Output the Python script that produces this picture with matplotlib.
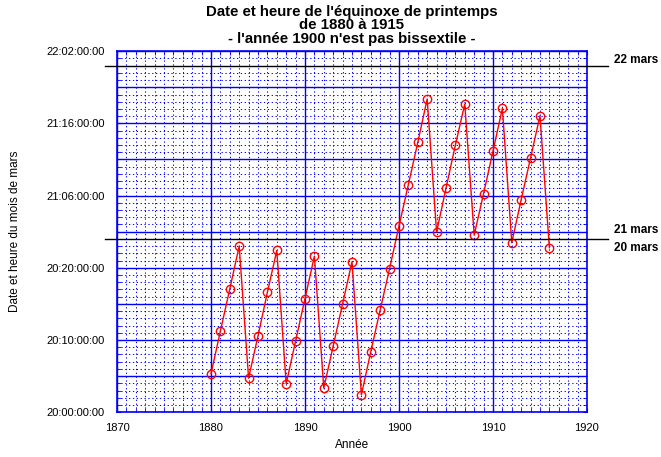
import matplotlib
matplotlib.use('Agg')
import matplotlib.pyplot as plt
from matplotlib.ticker import MultipleLocator

plt.rcParams['font.family'] = ['Liberation Sans', 'DejaVu Sans']

# données : heure de l'équinoxe, en heures depuis le 20 mars 0h
annees = list(range(1880, 1917))
heures = [5.32, 11.25, 17.08, 23.00, 4.72, 10.56, 16.61, 22.40,
          3.93, 9.86, 15.74, 21.61, 3.33, 9.17, 15.00, 20.83,
          2.40, 8.38, 14.17, 19.90, 25.78, 31.53, 37.36, 43.38,
          24.94, 31.01, 36.99, 42.68, 24.53, 30.28, 36.15, 42.08,
          23.47, 29.44, 35.22, 41.06, 22.78]

y_ticks = [0, 10, 20, 30, 40, 50]
y_labels = ['20:00:00:00', '20:10:00:00', '20:20:00:00',
            '21:06:00:00', '21:16:00:00', '22:02:00:00']
x_ticks = [1870, 1880, 1890, 1900, 1910, 1920]

# lignes de changement de jour
jours = [24, 48]

fig = plt.figure(figsize=(6.61, 4.57), dpi=100)
ax = fig.add_axes([0.177, 0.098, 0.711, 0.790])

ax.plot(annees, heures, color='red', lw=1, marker='o', markersize=6,
        markerfacecolor='none', markeredgecolor='red', markeredgewidth=1, zorder=5)

ax.set_xlim(1870, 1920)
ax.set_ylim(0, 50)
ax.set_xticks(x_ticks)
ax.set_yticks(y_ticks)
ax.set_yticklabels(y_labels)
ax.xaxis.set_minor_locator(MultipleLocator(1))
ax.yaxis.set_minor_locator(MultipleLocator(1))

# quadrillage bleu
ax.grid(which='minor', color='blue', linestyle=(0, (1.2, 2.5)), lw=0.75)
for v in range(1870, 1921, 10):
    ax.axvline(v, color='blue', lw=1)
for h in range(0, 51, 5):
    ax.axhline(h, color='blue', lw=1)

for s in ax.spines.values():
    s.set_color('blue')
    s.set_linewidth(1.2)
ax.tick_params(which='both', direction='in', colors='blue', labelcolor='black',
               labelsize=8, top=True, right=True)
ax.tick_params(which='minor', length=3)
ax.tick_params(which='major', length=3)
ax.tick_params(axis='x', pad=8)
ax.tick_params(axis='y', pad=9)

# traits noirs 21 et 22 mars
trans = ax.get_yaxis_transform()
for j in jours:
    ax.plot([-0.026, 1.045], [j, j], color='black', lw=1, transform=trans,
            clip_on=False, zorder=6)
ax.text(1.058, 48.8, '22 mars', transform=trans, fontsize=8.5, fontweight='bold',
        va='center', ha='left')
ax.text(1.058, 25.2, '21 mars', transform=trans, fontsize=8.5, fontweight='bold',
        va='center', ha='left')
ax.text(1.058, 22.8, '20 mars', transform=trans, fontsize=8.5, fontweight='bold',
        va='center', ha='left')

ax.set_title("Date et heure de l'équinoxe de printemps\nde 1880 à 1915\n"
             "- l'année 1900 n'est pas bissextile -",
             fontsize=10.8, fontweight='bold', linespacing=0.95, pad=6)
ax.set_xlabel('Année', fontsize=8.5, labelpad=4)
ax.set_ylabel('Date et heure du mois de mars', fontsize=8.5, labelpad=18)

plt.savefig('out.png', dpi=100)
